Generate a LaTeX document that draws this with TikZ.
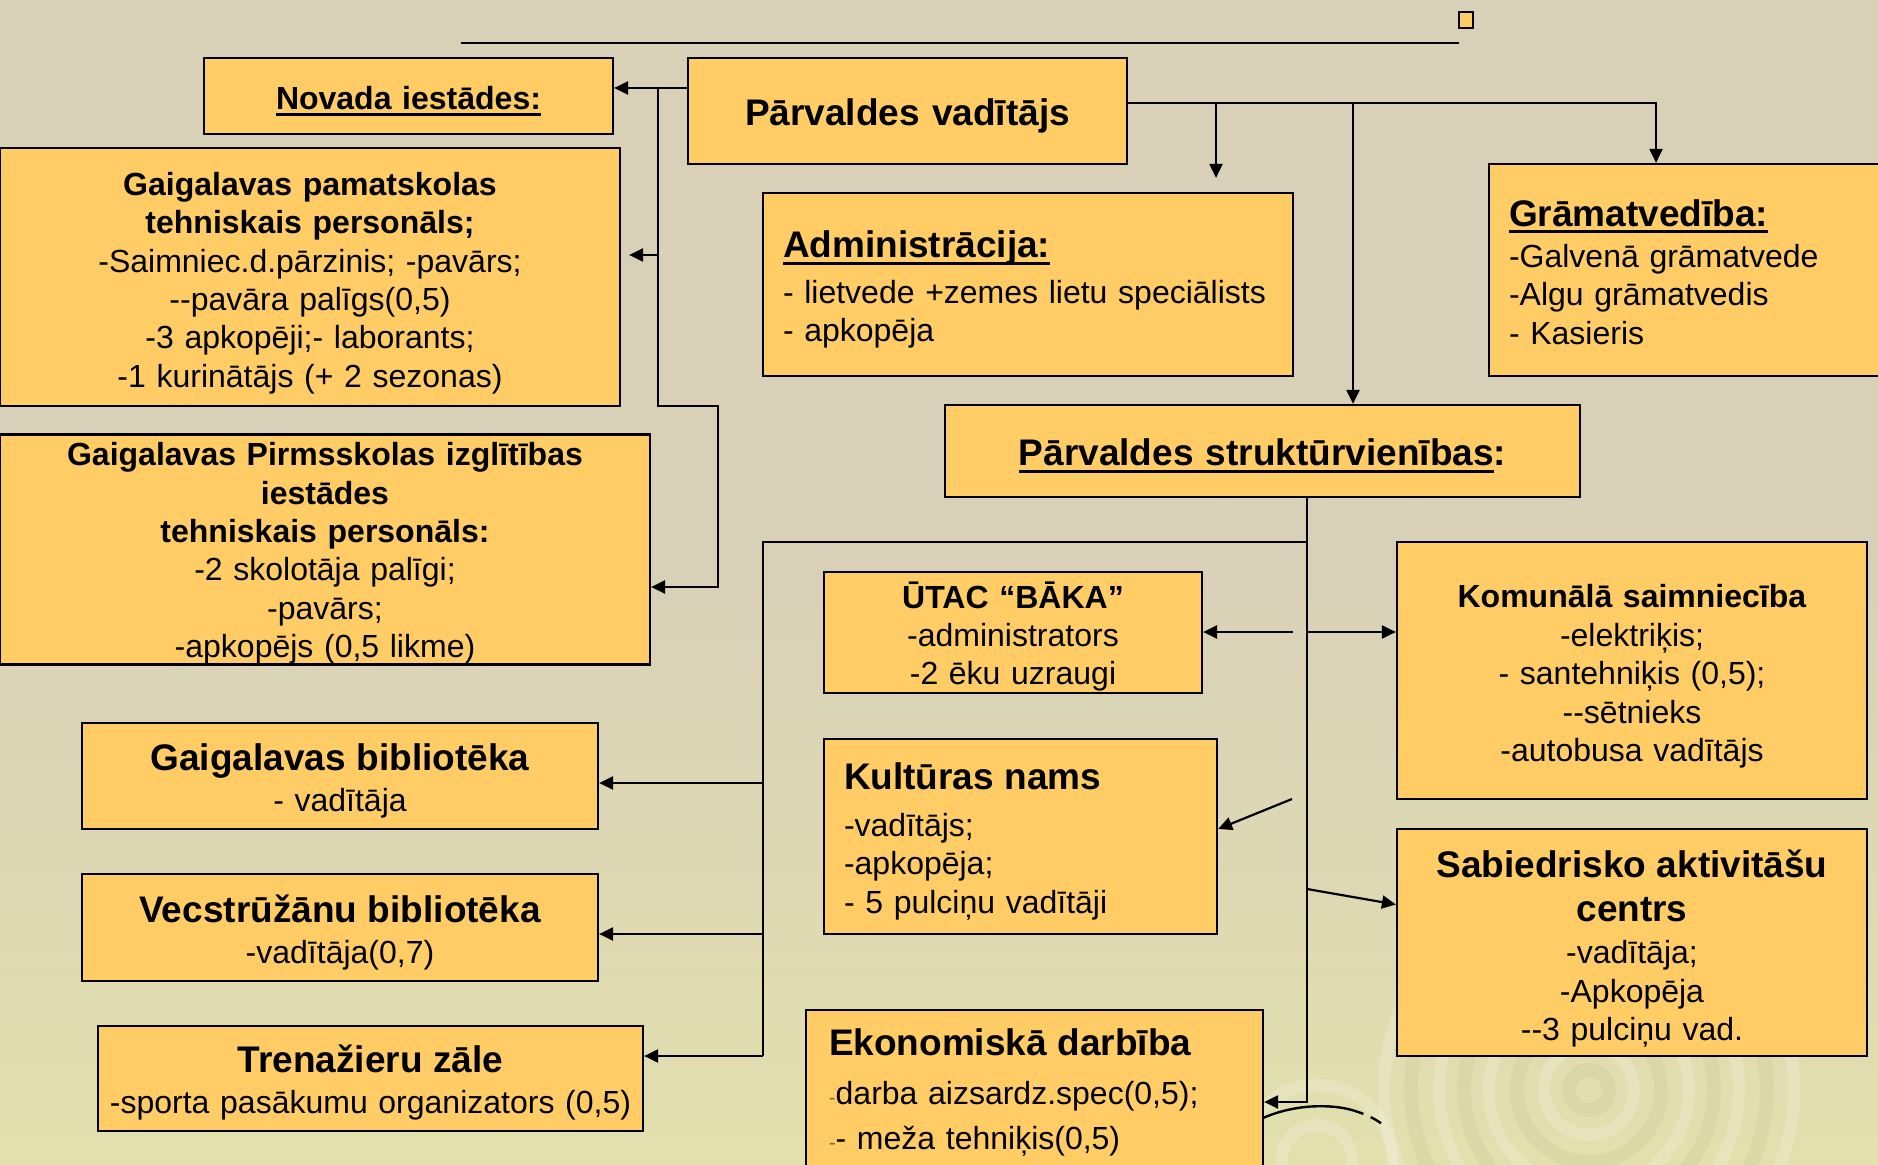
\documentclass[tikz,border=0pt]{standalone}
\usepackage{fontspec}
\setmainfont{Liberation Sans}
\usetikzlibrary{arrows.meta}

\definecolor{boxfill}{HTML}{FFCC66}
\definecolor{bgtop}{HTML}{D8D1B8}
\definecolor{bgbot}{HTML}{E3E0AE}
\definecolor{dashgray}{HTML}{6B7048}

\newsavebox{\ulbox}
\newcommand{\uln}[1]{\sbox{\ulbox}{#1}\rlap{\rule[-3.5pt]{\wd\ulbox}{1.5pt}}\usebox{\ulbox}}
\newcommand{\bigfont}{\fontsize{18.5}{22}\selectfont\bfseries}
\newcommand{\midfont}{\fontsize{16}{19.2}\selectfont\bfseries}

\begin{document}
\begin{tikzpicture}[x=0.5pt, y=-0.5pt, -{Triangle[length=7pt, width=6.5pt]}, line width=1.1pt]
\tikzset{
    unit/.style= {rectangle, draw=black, fill=boxfill, line width=1.1pt, inner sep=0pt, align=center, font=\fontsize{16}{19.2}\selectfont},
    lunit/.style= {unit, align=left},
    tdown/.style= {execute at begin node={\vadjust pre{\vskip #1}}},
    tip/.style= {-{Triangle[length=7pt, width=6.5pt]}},
    ring/.style= {-, line width=6pt, white, opacity=0.18},
    dring/.style= {-, line width=7pt, black, opacity=0.03},
}

% background
\useasboundingbox (0,0) rectangle (1878,1165);
\clip (0,0) rectangle (1878,1165);
\shade[top color=bgtop, bottom color=bgbot, middle color=bgtop] (0,0) rectangle (1878,1165);
\foreach \r in {45,100,150,205}
    \draw[ring] (1589,1090) circle[radius=\r];
\foreach \r in {20,72,125,178}
    \draw[dring] (1589,1090) circle[radius=\r];
\foreach \r in {35,75}
    \draw[ring] (1317,1160) circle[radius=\r];
\draw[-, line width=1.2pt] (1263,1118) .. controls (1295,1104) and (1330,1104) .. (1352,1110);
\draw[-, line width=1.2pt, dash pattern=on 6pt off 4pt] (1352,1110) .. controls (1365,1114) and (1374,1118) .. (1382,1124);

% top rule
\coordinate (ta) at (461,43);
\coordinate (tb) at (1459,43);
\draw[-, line width=1.2pt] (ta) -- (tb);
\node[draw, fill=boxfill, minimum width=7pt, minimum height=8pt, inner sep=0pt, line width=0.8pt] (sq) at (1466,20) {};

% boxes
\node[unit, tdown=5pt, text width=190pt, minimum width=204.5pt, minimum height=38pt, font=\midfont] (nov) at (408.5,96) {\uln{Novada iestādes:}};
\node[unit, tdown=5pt, text width=205pt, minimum width=219.5pt, minimum height=53pt, font=\bigfont] (vad) at (907.5,111) {Pārvaldes vadītājs};
\node[unit, tdown=6pt, text width=295pt, minimum width=310pt, minimum height=129pt] (pam) at (310,277)
    {\textbf{Gaigalavas pamatskolas}\\\textbf{tehniskais personāls;}\\-Saimniec.d.pārzinis; -pavārs;\\-\kern0pt-pavāra palīgs(0,5)\\-3 apkopēji;- laborants;\\-1 kurinātājs (+ 2 sezonas)};
\node[lunit, tdown=5pt, text width=245pt, minimum width=265pt, minimum height=91.5pt] (adm) at (1028,284.5)
    {{\bigfont\uln{Administrācija:}}\\[3.5pt]- lietvede +zemes lietu speciālists\\- apkopēja};
\node[lunit, tdown=2pt, text width=185.5pt, minimum width=205.5pt, minimum height=106pt] (gram) at (1694.5,270)
    {{\bigfont\uln{Grāmatvedība:}}\\[1.5pt]-Galvenā grāmatvede\\-Algu grāmatvedis\\- Kasieris};
\node[unit, tdown=5pt, text width=305pt, minimum width=317.5pt, minimum height=46pt, font=\bigfont] (str) at (1262.5,451) {\uln{Pārvaldes struktūrvienības}:};
\node[unit, tdown=4pt, text width=315pt, minimum width=325pt, minimum height=113.5pt] (pir) at (325,549.5)
    {\textbf{Gaigalavas Pirmsskolas izglītības}\\\textbf{iestādes}\\\textbf{tehniskais personāls:}\\-2 skolotāja palīgi;\\-pavārs;\\-apkopējs (0,5 likme)};
\node[unit, tdown=4pt, text width=180pt, minimum width=189pt, minimum height=60.5pt] (uta) at (1013,632.5)
    {\textbf{ŪTAC “BĀKA”}\\-administrators\\-2 ēku uzraugi};
\node[unit, tdown=6pt, text width=225pt, minimum width=235pt, minimum height=128.5pt] (kom) at (1632,670.5)
    {\textbf{Komunālā saimniecība}\\-elektriķis;\\- santehniķis (0,5);\\-\kern0pt-sētnieks\\-autobusa vadītājs};
\node[lunit, tdown=5pt, text width=176.5pt, minimum width=196.5pt, minimum height=97.5pt] (kul) at (1020.5,836.5)
    {{\bigfont Kultūras nams}\\[4pt]-vadītājs;\\-apkopēja;\\- 5 pulciņu vadītāji};
\node[unit, tdown=6pt, text width=225pt, minimum width=235pt, minimum height=113.5pt] (sab) at (1632,942.5)
    {{\bigfont Sabiedrisko aktivitāšu}\\[3pt]{\bigfont centrs}\\[2pt]-vadītāja;\\-Apkopēja\\-\kern0pt-3 pulciņu vad.};
\node[unit, tdown=5pt, text width=250pt, minimum width=258pt, minimum height=53pt] (gbi) at (340,776)
    {{\bigfont Gaigalavas bibliotēka}\\[1.5pt]- vadītāja};
\node[unit, tdown=5pt, text width=250pt, minimum width=258pt, minimum height=53.5pt] (vec) at (340,927.5)
    {{\bigfont Vecstrūžānu bibliotēka}\\[1.5pt]-vadītāja(0,7)};
\node[unit, tdown=4pt, text width=266pt, minimum width=272.5pt, minimum height=52.5pt] (tre) at (370.5,1078.5)
    {{\bigfont Trenažieru zāle}\\[1.5pt]-sporta pasākumu organizators (0,5)};
\node[lunit, text width=205.5pt, minimum width=228.5pt, minimum height=82.5pt] (eko) at (1034.5,1092.5)
    {{\bigfont Ekonomiskā darbība}\\[5pt]{\color{dashgray}\fontsize{10}{12}\selectfont-}darba aizsardz.spec(0,5);\\[3.5pt]{\color{dashgray}\fontsize{10}{12}\selectfont-}- meža tehniķis(0,5)};

% junctions
\coordinate (nl) at (658,88);
\coordinate (jp) at (658,255);
\coordinate (nb) at (718,406);
\coordinate (np) at (718,587);
\coordinate (rt) at (1656,103);
\coordinate (ra) at (1216,103);
\coordinate (rs) at (1353,103);
\coordinate (sl) at (1307,542);
\coordinate (lt) at (763,1056);
\coordinate (lg) at (763,783);
\coordinate (lv) at (763,934);
\coordinate (se) at (1307,1102);
\coordinate (ua) at (1293,632);
\coordinate (ka) at (1307,632);
\coordinate (kk) at (1292,799);
\coordinate (ss) at (1307,889);

\draw (nl) |- (nb) |- (np -| pir.east);
\draw (vad.east |- rt) -| (rt |- gram.north);
\draw (str.south -| sl) |- (se -| eko.east);
\draw[-] (sl) -| (lt);

\draw[-]
(vad.west |- nl) edge[tip] (nov.east |- nl)
(jp) edge[tip, shorten >=4pt] (jp -| pam.east)
(ra) edge[tip, shorten >=7pt] (ra |- adm.north)
(rs) edge[tip] (rs |- str.north)
(lg) edge[tip] (lg -| gbi.east)
(lv) edge[tip] (lv -| vec.east)
(lt) edge[tip] (lt -| tre.east)
(ua) edge[tip] (ua -| uta.east)
(ka) edge[tip] (ka -| kom.west)
(kk) edge[tip] ([yshift=3.75pt]kul.east)
(ss) edge[tip] ([yshift=19pt]sab.west);
\end{tikzpicture}
\end{document}
